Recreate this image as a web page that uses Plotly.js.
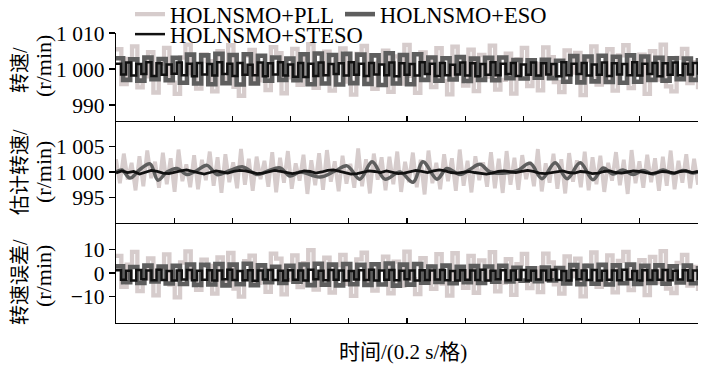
<!DOCTYPE html>
<html><head><meta charset="utf-8">
<script src="https://cdn.plot.ly/plotly-3.0.1.min.js"></script>
<style>html,body{margin:0;padding:0;background:#fff}</style>
</head>
<body><div id="chart" style="width:707px;height:368px"></div>
<script>
const seriesNames = ['HOLNSMO+PLL', 'HOLNSMO+ESO', 'HOLNSMO+STESO'];
const panelLabels = ['转速/', '估计转速/', '转速误差/'];
const unitLabel = '(r/min)';
const xTitle = '时间/(0.2 s/格)';
const timeRange = [0, 2];

const p1TickVals = [990, 1000, 1010];
const p1TickText = ['990', '1 000', '1 010'];
const p2TickVals = [995, 1000, 1005];
const p2TickText = ['995', '1 000', '1 005'];
const p3TickVals = [-10, 0, 10];
const p3TickText = ['\u221210', '0', '10'];

// Panel 1: speed (r/min), step series
const p1Pll = [1005.5,995.8,1002.8,1006.3,994.9,998.0,1004.7,993.5,1001.5,1005.9,996.2,993.1,1003.2,1006.8,998.8,994.6,1004.1,1002.2,993.8,1005.0,
997.4,1006.6,995.1,992.6,1003.7,1005.3,996.9,1001.0,994.2,1006.1,1004.4,993.3,997.7,1005.6,995.6,1003.0,1006.9,994.8,998.4,1004.8,
994.0,1002.5,1005.7,996.5,992.9,1004.2,1006.4,997.2,994.5,1001.8,1005.1,993.7,1003.5,996.0,1006.7,998.1,993.4,1004.6,1002.0,995.0,
1005.8,996.7,993.0,1006.2,1001.2,995.4,1005.4,993.9,1003.9,997.9,1006.5,994.3,997.0,1004.3,993.2,1002.7,1005.9,995.3,1001.4,994.1,
1006.0,1003.3,996.4,993.6,1005.2,999.0,1004.5,992.8,1002.4,1006.3,995.7,997.5,1005.5,994.0,1003.8,1006.6,994.7,998.5,1004.0,993.1,
1005.0,997.1,1006.8,995.2,993.8,1003.1,1005.6,996.1,1001.9,994.4];
const p1Eso = [1003.0,997.0,1002.7,996.8,1003.2,997.2,1002.8,996.9,1003.1,
996.2,1004.0,996.0,1003.8,995.8,1004.2,996.1,1003.9,995.7,1004.1,996.0,1003.7,
996.8,1003.2,997.0,1002.9,996.9,
1004.1,995.8,1004.3,996.0,1003.9,995.7,1004.2,996.1,1004.0,995.9,1003.8,995.6,1004.4,996.0,1003.9,995.8,1004.1,
997.0,1003.2,996.8,1003.0,997.1,1003.3,996.7,1002.9,997.0,1003.1,996.9,1003.2,
997.5,1002.5,997.4,1002.4,997.6,1002.6,997.5,1002.3,
996.5,1003.6,996.3,1003.5,996.6,1003.7,996.4,1003.4,996.2,1003.8,996.5,1003.5,
997.0,1003.1,996.8,1003.0,997.2,1002.9,997.0,1003.1];
const p1Steso = [1001.5,998.5,1001.8,998.2,1001.4,998.6,1001.9,998.1,1001.6,998.4,
1001.3,998.7,1001.8,998.3,1001.5,998.0,1001.7,998.5,1001.4,998.2,
1001.9,998.6,1001.5,998.1,1001.7,998.4,1001.2,998.3,1001.8,998.0,
1001.6,998.5,1001.9,998.2,1001.3,997.9,1001.7,997.8,1001.5,998.1,
1001.8,998.3,1001.4,998.6,1001.6,998.2,1001.9,998.4,1001.5,998.1,
1001.7,998.5,1001.3,998.3,1001.8,998.0,1001.6,998.4,1001.4,998.2,
1001.9,998.6,1001.5,998.1,1001.7,998.3,1001.2,998.5,1001.8,998.2,
1001.6,998.0,1001.4,998.4,1001.9,998.3,1001.5,998.6,1001.7,998.1,
1001.3,998.4,1001.8,998.2,1001.6,998.5,1001.4,998.0,1001.9,998.3,
1001.5,998.6,1001.7,998.2,1001.3,998.4,1001.8,998.1,1001.6,998.5,
1001.4,998.3,1001.9,998.2,1001.5,998.6,1001.7,998.0,1001.6,998.4,
1001.8,998.3,1001.5,998.5,1001.7,998.4];

// Panel 2: estimated speed (r/min)
const p2Pll = [1002.5,997.8,1003.6,998.5,1001.8,996.4,1003.1,997.2,1004.2,998.8,
1002.0,996.9,1003.8,997.6,1002.7,996.1,1004.4,998.2,1001.5,997.0,
1003.3,996.6,1002.4,998.4,1004.0,997.3,1002.9,995.9,1003.5,998.0,
1001.9,996.8,1004.5,997.5,1002.6,996.3,1003.0,998.6,1002.2,997.1,
1003.9,996.0,1002.8,997.9,1004.1,996.7,1001.7,998.3,1003.4,995.7,
1002.3,997.4,1003.7,996.5,1004.3,998.1,1002.1,996.2,1003.2,997.7,
1001.6,996.9,1004.6,997.2,1002.5,995.8,1003.6,998.5,1002.9,996.4,
1003.0,997.6,1004.0,996.1,1002.0,998.0,1003.8,997.0,1002.4,995.6,
1004.2,997.8,1001.8,996.6,1003.5,998.2,1002.7,996.3,1004.4,997.3,
1002.2,996.0,1003.1,998.4,1001.9,997.1,1003.9,996.8,1002.6,995.9,
1004.1,997.5,1002.8,996.5,1003.3,998.6,1002.0,997.2,1004.5,996.2,
1001.7,997.9,1003.6,996.7,1002.5,995.8,1003.7,998.1,1002.3,997.0,
1004.0,996.4,1002.9,997.6,1003.2,996.1,1001.8,998.3,1003.9,997.4,
1002.4,995.7,1004.3,997.8,1002.1,996.9,1003.4,998.0,1002.7,996.3,
1003.0,997.3,1004.2,996.6,1002.2,997.9,1003.5,996.8,1002.6,997.5];
const p2EsoT = [0,0.021,0.048,0.082,0.117,0.144,0.175,0.210,0.244,0.278,
0.313,0.347,0.392,0.436,0.485,0.522,0.564,0.598,0.632,0.701,
0.753,0.794,0.838,0.880,0.924,0.976,1.021,1.055,1.103,1.137,
1.182,1.216,1.251,1.285,1.337,1.381,1.423,1.464,1.509,1.550,
1.595,1.639,1.674,1.708,1.742,1.777,1.811,1.845,1.880,1.914,
1.948,1.983,2.0];
const p2Eso = [1000,1000.4,998.8,1000.5,1001.6,998.4,1000,1000.7,999.5,1000.3,
1001.3,999.5,1000.3,1001.0,999.5,1000.2,1000.8,999.2,1000,999.0,
1000.2,1001.2,998.6,1002,998.6,1000,998,1002,998.6,1000.7,
999.5,1000.5,1001.5,1000,999.8,1000.3,1001.7,998.7,1001.8,998.7,
1001.8,998.5,1000.8,999.6,1000.4,999.5,1000.3,999.6,1000.4,999.7,
1000.3,999.8,1000];
const p2Steso = [999.8,1000.2,999.9,1000.1,999.6,999.9,1000.3,1000.1,999.8,999.7,
1000.0,1000.2,1000.4,1000.1,999.8,999.6,999.9,1000.2,1000.0,999.8,
1000.1,1000.3,1000.2,999.9,999.7,999.8,1000.1,1000.3,1000.1,999.9,
999.7,999.9,1000.2,1000.1,999.8,1000.0,1000.3,1000.4,1000.1,999.8,
999.6,999.7,1000.0,1000.2,1000.1,999.9,1000.2,1000.0,999.7,999.8,
1000.1,1000.3,1000.1,999.9,1000.2,1000.4,1000.2,999.9,999.8,1000.0,
1000.1,999.9,999.7,999.6,999.8,1000.1,1000.2,1000.0,999.9,1000.1,
1000.3,1000.1,999.8,999.7,999.9,1000.0,1000.2,999.9,999.8,1000.1,
1000.0,999.7,999.8,1000.1,1000.2,999.9,999.8,1000.0,1000.2,1000.1,
999.9,999.7,999.9,1000.1,1000.0,999.8,1000.1,1000.2,999.9,1000.1];

// Panel 3: speed error (r/min)
const p3Pll = [7.2,-5.8,3.5,8.9,-7.6,-2.4,6.1,-9.4,2.0,7.8,-4.9,-10.2,4.4,9.1,-1.8,-7.1,5.6,3.0,-8.7,6.5,
-3.6,8.4,-6.6,-9.9,5.0,7.3,-4.1,1.6,-7.9,8.1,6.0,-9.0,-3.0,7.4,-5.9,4.1,9.6,-7.0,-2.2,6.4,
-8.2,3.3,7.6,-4.6,-9.6,5.7,8.5,-3.7,-7.4,2.6,6.9,-8.5,4.8,-5.3,9.0,-2.6,-8.9,6.2,2.8,-6.7,
7.9,-4.4,-9.5,8.3,1.7,-6.2,7.2,-8.3,5.3,-2.9,8.8,-7.7,-4.0,5.8,-9.2,3.7,8.0,-6.3,2.0,-8.0,
8.1,4.5,-4.8,-8.7,7.0,-1.4,6.0,-9.8,3.2,8.6,-5.8,-3.3,7.4,-8.1,5.1,8.9,-7.2,-2.0,5.4,-9.3,
6.8,-3.9,9.2,-6.5,-8.4,4.2,7.6,-5.3,2.6,-7.6];
const p3Eso = [2.8,-3.9,2.5,-4.2,3.1,-3.6,2.7,-4.4,3.0,
-4.6,3.6,-5.0,3.4,-4.8,3.8,-5.2,3.5,-4.7,3.9,-5.1,3.2,
-3.9,2.6,-4.2,3.0,-3.7,
3.6,-5.1,3.9,-4.9,3.5,-5.2,3.8,-4.7,3.4,-5.0,3.7,-4.8,4.0,-5.3,3.5,-4.9,3.8,
-4.1,2.7,-3.8,3.1,-4.3,2.6,-3.9,2.9,-4.2,2.7,-3.7,3.0,
-3.5,2.2,-3.2,2.0,-3.4,2.3,-3.1,2.1,
-4.4,3.3,-4.7,3.0,-4.5,3.4,-4.8,3.2,-4.3,3.5,-4.6,3.0,
-4.2,3.2,-4.5,2.8,-4.0,3.1,-4.3,2.9];
const p3Steso = [1.2,-2.8,0.9,-3.1,1.3,-2.6,1.0,-3.0,1.4,-2.9,
0.8,-3.2,1.1,-2.7,1.3,-3.0,0.9,-2.8,1.2,-3.1,
1.0,-2.6,1.4,-2.9,0.8,-3.0,1.2,-3.3,1.1,-2.7,
1.3,-2.9,0.9,-3.1,1.2,-2.8,1.0,-3.2,1.4,-2.6,
0.9,-3.0,1.3,-2.8,1.1,-3.1,0.8,-2.7,1.2,-2.9,
1.4,-3.2,1.0,-2.8,1.3,-3.0,0.9,-2.6,1.1,-3.1,
1.2,-2.9,1.0,-2.7,1.3,-3.0,0.8,-3.2,1.2,-2.8,
1.1,-2.9,1.4,-3.1,0.9,-2.6,1.2,-3.0,1.0,-2.8,
1.3,-3.2,0.9,-2.7,1.1,-3.0,1.4,-2.9,0.8,-3.1,
1.2,-2.6,1.0,-2.9,1.3,-3.1,0.9,-2.8,1.1,-3.0,
1.4,-2.7,0.8,-3.2,1.2,-2.9,1.0,-2.8,1.3,-3.0,
0.9,-2.7,1.2,-3.1,1.0,-2.9];

const colPll = '#d6cccc', colEso = '#5e5e5e', colSteso = '#111111';
const serif = 'Liberation Serif, Times New Roman, serif';
const mixed = 'Liberation Serif, Noto Sans CJK SC, serif';

function uniform(y, xa, ya, color, width, shape, name, legend, show) {
  const tr = {type: 'scatter', mode: 'lines', y: y, x0: timeRange[0],
    dx: (timeRange[1] - timeRange[0]) / (y.length - 1),
    xaxis: xa, yaxis: ya, name: name, showlegend: show,
    line: {color: color, width: width, shape: shape},
    hoverinfo: 'skip'};
  if (legend) tr.legend = legend;
  return tr;
}

const traces = [
  uniform(p1Pll, 'x', 'y', colPll, 4.3, 'hv', seriesNames[0], 'legend', true),
  uniform(p1Eso, 'x', 'y', colEso, 4.6, 'hv', seriesNames[1], 'legend', true),
  uniform(p1Steso, 'x', 'y', colSteso, 2.5, 'hv', seriesNames[2], 'legend2', true),
  uniform(p2Pll, 'x2', 'y2', colPll, 3.8, 'linear', seriesNames[0], null, false),
  {type: 'scatter', mode: 'lines', x: p2EsoT, y: p2Eso, xaxis: 'x2', yaxis: 'y2',
   showlegend: false, line: {color: colEso, width: 3.5, shape: 'spline', smoothing: 1}, hoverinfo: 'skip'},
  uniform(p2Steso, 'x2', 'y2', colSteso, 2.8, 'linear', seriesNames[2], null, false),
  uniform(p3Pll, 'x3', 'y3', colPll, 4.3, 'hv', seriesNames[0], null, false),
  uniform(p3Eso, 'x3', 'y3', colEso, 4.6, 'hv', seriesNames[1], null, false),
  uniform(p3Steso, 'x3', 'y3', colSteso, 2.5, 'hv', seriesNames[2], null, false)
];

const plotTop = 33, plotBottom = 323, plotH = plotBottom - plotTop;
const d3 = [0, 100 / plotH], d2 = [100 / plotH, 202 / plotH], d1 = [202 / plotH, 1];

function xAx(anchor) {
  return {anchor: anchor, domain: [0, 1], range: timeRange, showline: true, linecolor: '#000',
    linewidth: 1.3, ticks: 'inside', ticklen: 5, tickwidth: 1.3, tickcolor: '#000',
    tick0: 0, dtick: 0.2, showticklabels: false, showgrid: false, zeroline: false, fixedrange: true};
}
function yAx(domain, range, vals, text) {
  return {domain: domain, range: range, tickmode: 'array', tickvals: vals, ticktext: text,
    showline: true, linecolor: '#000', linewidth: 1.3, ticks: 'outside', ticklen: 6,
    tickwidth: 1.3, tickcolor: '#000', showgrid: false, zeroline: false,
    tickfont: {family: serif, size: 21.5, color: '#000'}, fixedrange: true};
}

function py(p) { return (plotBottom - p) / plotH; }
function px(p) { return (p - 116) / (698 - 116); }

const annotations = [];
const labelCenters = [[70, 66], [172, 172], [282, 276]];
panelLabels.forEach((lab, i) => {
  annotations.push({xref: 'paper', yref: 'paper', x: px(20), y: py(labelCenters[i][0]),
    xanchor: 'center', yanchor: 'middle', textangle: -90, showarrow: false, text: lab,
    font: {family: mixed, size: 20, color: '#000'}});
  annotations.push({xref: 'paper', yref: 'paper', x: px(43), y: py(labelCenters[i][1]),
    xanchor: 'center', yanchor: 'middle', textangle: -90, showarrow: false, text: unitLabel,
    font: {family: serif, size: 22, color: '#000'}});
});
annotations.push({xref: 'paper', yref: 'paper', x: px(403), y: py(352), xanchor: 'center',
  yanchor: 'middle', showarrow: false, text: xTitle, font: {family: mixed, size: 21, color: '#000'}});

const layout = {
  width: 707, height: 368,
  margin: {l: 116, r: 9, t: 33, b: 45, pad: 0, autoexpand: false},
  paper_bgcolor: '#fff', plot_bgcolor: '#fff',
  showlegend: true,
  xaxis: xAx('y'), xaxis2: xAx('y2'), xaxis3: xAx('y3'),
  yaxis: yAx(d1, [985.6, 1010], p1TickVals, p1TickText),
  yaxis2: yAx(d2, [990, 1010], p2TickVals, p2TickText),
  yaxis3: yAx(d3, [-21, 21], p3TickVals, p3TickText),
  legend: {orientation: 'h', x: px(130), xanchor: 'left', y: py(-7), yanchor: 'top',
    entrywidth: 165, bgcolor: 'rgba(0,0,0,0)', font: {family: serif, size: 22.5, color: '#000'},
    itemwidth: 30, traceorder: 'normal'},
  legend2: {orientation: 'h', x: px(130), xanchor: 'left', y: py(13), yanchor: 'top',
    bgcolor: 'rgba(0,0,0,0)', font: {family: serif, size: 22.5, color: '#000'}, itemwidth: 30},
  annotations: annotations
};

Plotly.newPlot('chart', traces, layout, {staticPlot: true, displayModeBar: false});
</script>
</body></html>
